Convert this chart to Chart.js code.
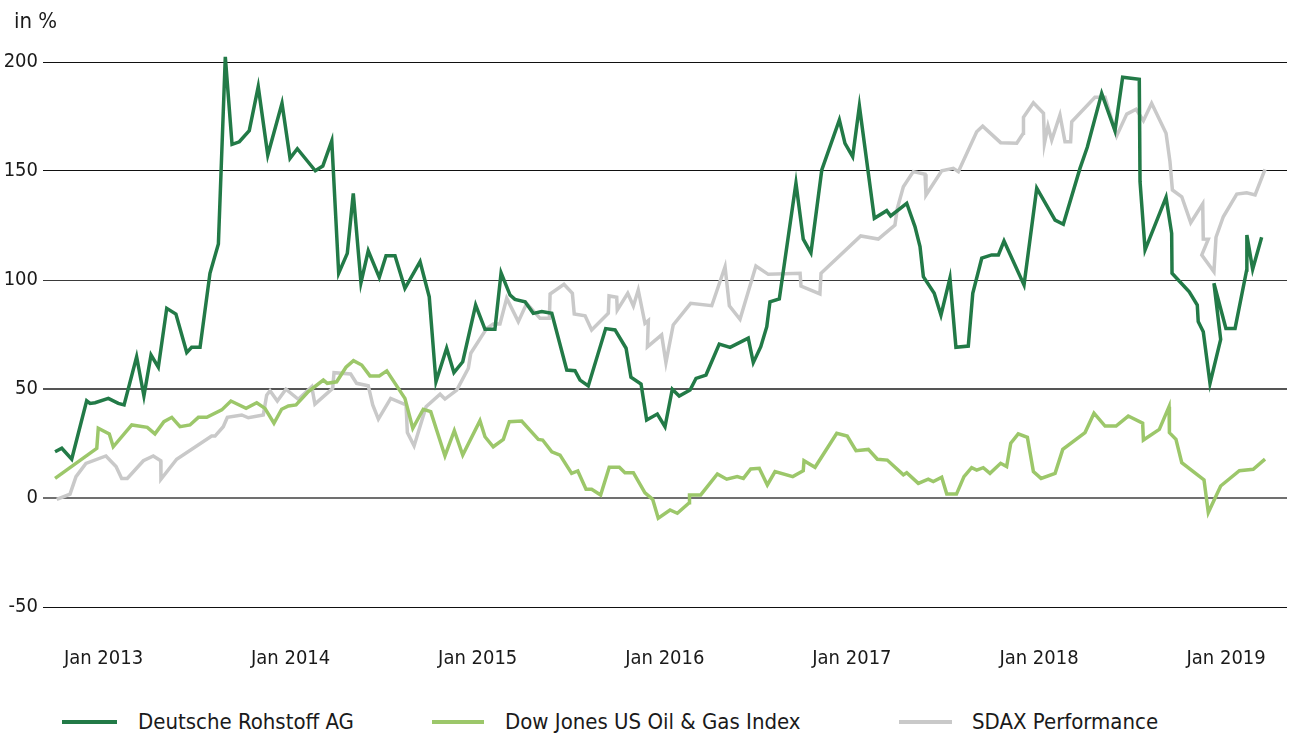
<!DOCTYPE html>
<html>
<head>
<meta charset="utf-8">
<script src="https://cdn.jsdelivr.net/npm/chart.js@4.4.1/dist/chart.umd.min.js"></script>
<style>
  html, body { margin: 0; padding: 0; background: #fff; }
  #wrap { position: relative; width: 1290px; height: 738px; overflow: hidden;
          font-family: 'Liberation Sans Narrow', 'DejaVu Sans Condensed', 'Roboto', sans-serif; color: #1a1a1a; }
  #c { position: absolute; left: 0; top: 0; }
  .unit { position: absolute; left: 14px; top: 7px; font-size: 22px; line-height: 28px; }
  .lg-line { position: absolute; height: 4px; }
  .lg-text { position: absolute; font-size: 22px; line-height: 28px; white-space: nowrap; }
</style>
</head>
<body>
<div id="wrap">
  <canvas id="c" width="1290" height="690"></canvas>
  <div class="unit" id="unit"></div>
  <div id="legend"></div>
</div>
<script>
// ---- labels ----
const unitLabel = 'in %';
const seriesNames = ['Deutsche Rohstoff AG', 'Dow Jones US Oil & Gas Index', 'SDAX Performance'];
const seriesColors = ['#227a47', '#9cc76a', '#c9c9c9'];
const tickYears = [2013, 2014, 2015, 2016, 2017, 2018, 2019];
const tickLabels = ['Jan 2013', 'Jan 2014', 'Jan 2015', 'Jan 2016', 'Jan 2017', 'Jan 2018', 'Jan 2019'];
const yTicks = [-50, 0, 50, 100, 150, 200];

// ---- Deutsche Rohstoff AG (dates as decimal years, values in %) ----
const dragDates = [
  2012.741,2012.777,2012.830,2012.910,2012.928,2012.955,2013.026,2013.079,2013.110,2013.177,
  2013.216,2013.254,2013.293,2013.338,2013.387,2013.445,2013.471,2013.516,2013.569,2013.614,
  2013.651,2013.687,2013.726,2013.779,2013.827,2013.878,2013.954,2013.997,2014.036,2014.132,
  2014.172,2014.220,2014.257,2014.303,2014.335,2014.376,2014.415,2014.474,2014.510,2014.558,
  2014.611,2014.692,2014.741,2014.777,2014.834,2014.873,2014.920,2014.989,2015.039,2015.092,
  2015.125,2015.173,2015.199,2015.253,2015.297,2015.342,2015.396,2015.476,2015.520,2015.547,
  2015.591,2015.684,2015.734,2015.793,2015.819,2015.873,2015.903,2015.960,2016.001,2016.040,
  2016.077,2016.135,2016.167,2016.220,2016.291,2016.349,2016.446,2016.473,2016.513,2016.545,
  2016.562,2016.612,2016.701,2016.740,2016.781,2016.839,2016.933,2016.963,2017.004,2017.040,
  2017.120,2017.186,2017.207,2017.293,2017.337,2017.364,2017.382,2017.440,2017.476,2017.524,
  2017.556,2017.622,2017.646,2017.694,2017.747,2017.783,2017.813,2017.920,2017.988,2018.086,
  2018.130,2018.219,2018.258,2018.335,2018.406,2018.447,2018.536,2018.540,2018.567,2018.679,
  2018.709,2018.711,2018.803,2018.846,2018.851,2018.878,2018.914,2018.971,2018.935,2018.999,
  2019.048,2019.110,2019.111,2019.142,2019.190
];
const dragValues = [
  21.2,22.8,17.8,44.6,43.4,43.7,45.7,43.4,42.7,64.8,
  46.8,65.6,60.0,87.0,84.4,66.7,69.1,69.1,103.1,116.5,
  202.4,162.2,163.4,168.5,188.7,157.3,181.1,155.8,160.2,150.1,
  152.3,163.8,103.1,112.2,139.7,98.8,113.4,101.2,111.1,111.1,
  96.2,108.4,92.3,53.3,68.7,57.5,62.5,88.5,77.4,77.4,
  103.3,93.1,91.1,90.0,84.7,85.5,84.7,58.7,58.4,54.1,
  51.4,77.7,77.1,68.7,55.4,52.3,35.8,38.5,32.7,49.9,
  46.8,49.5,54.9,56.4,70.6,69.1,73.3,62.1,69.4,78.6,
  90.0,91.3,144.4,118.7,112.5,150.5,173.4,162.7,156.6,179.8,
  128.3,131.8,129.4,135.2,124.5,115.3,101.5,93.9,83.9,100.9,
  69.1,69.7,93.9,110.0,111.5,111.5,117.9,97.7,142.1,127.5,
  125.6,151.2,160.9,185.6,168.5,193.0,192.1,145.1,113.8,137.9,
  121.4,103.1,94.6,88.5,80.9,76.3,52.6,72.8,98.5,77.8,
  77.8,104.6,120.6,104.9,119.6
];

// ---- Dow Jones US Oil & Gas Index ----
const dowDates = [
  2012.741,2012.964,2012.972,2013.031,2013.052,2013.151,2013.234,2013.275,2013.323,2013.365,
  2013.409,2013.462,2013.507,2013.552,2013.632,2013.681,2013.762,2013.819,2013.863,2013.911,
  2013.952,2013.988,2014.029,2014.095,2014.175,2014.196,2014.246,2014.296,2014.336,2014.380,
  2014.424,2014.474,2014.514,2014.611,2014.653,2014.709,2014.749,2014.825,2014.875,2014.920,
  2015.012,2015.039,2015.083,2015.137,2015.169,2015.235,2015.324,2015.347,2015.396,2015.440,
  2015.502,2015.535,2015.579,2015.609,2015.657,2015.703,2015.757,2015.787,2015.832,2015.894,
  2015.935,2015.965,2016.028,2016.067,2016.131,2016.132,2016.192,2016.281,2016.331,2016.387,
  2016.420,2016.459,2016.505,2016.548,2016.589,2016.684,2016.740,2016.744,2016.803,2016.919,
  2016.975,2017.022,2017.088,2017.136,2017.189,2017.275,2017.293,2017.355,2017.408,2017.435,
  2017.480,2017.507,2017.559,2017.599,2017.640,2017.667,2017.702,2017.738,2017.795,2017.827,
  2017.849,2017.889,2017.938,2017.970,2018.011,2018.086,2018.127,2018.246,2018.294,2018.353,
  2018.412,2018.477,2018.554,2018.558,2018.643,2018.695,2018.697,2018.732,2018.763,2018.882,
  2018.905,2018.971,2019.071,2019.145,2019.208
];
const dowValues = [
  9.0,22.8,32.0,29.4,23.5,33.5,32.4,29.4,35.0,37.0,
  32.7,33.5,37.0,37.0,40.4,44.5,41.1,43.7,41.1,34.3,
  40.7,42.2,42.7,48.8,54.1,52.6,53.3,60.0,63.0,61.0,
  56.0,56.0,58.3,45.7,32.0,40.7,39.6,19.3,30.9,19.7,
  35.5,28.1,23.5,26.9,35.0,35.3,26.9,26.6,21.2,19.7,
  11.3,12.4,4.0,4.0,1.4,14.1,14.1,11.6,11.6,2.4,
  -0.6,-9.3,-5.5,-7.0,-2.2,1.4,1.4,11.0,8.6,9.8,
  9.0,13.3,13.6,6.0,12.1,9.8,12.5,17.1,14.1,29.7,
  28.4,21.7,22.3,17.8,17.4,10.6,11.6,6.7,8.6,7.5,
  9.5,1.8,1.8,9.8,13.9,12.8,13.9,11.3,15.9,14.4,
  25.1,29.4,27.8,12.1,9.0,11.3,22.3,30.0,38.9,33.0,
  33.0,37.6,34.3,26.6,31.5,41.9,30.0,26.9,16.2,8.3,
  -6.7,5.5,12.5,13.2,17.8
];

// ---- SDAX Performance ----
const sdaxDates = [
  2012.750,2012.821,2012.853,2012.906,2013.013,2013.067,2013.097,2013.127,2013.213,2013.266,
  2013.306,2013.307,2013.391,2013.578,2013.596,2013.640,2013.662,2013.739,2013.774,2013.854,
  2013.872,2013.890,2013.929,2013.975,2014.041,2014.113,2014.130,2014.225,2014.232,2014.321,
  2014.353,2014.415,2014.439,2014.469,2014.535,2014.617,2014.624,2014.660,2014.724,2014.799,
  2014.825,2014.888,2014.950,2014.963,2015.048,2015.083,2015.119,2015.155,2015.217,2015.262,
  2015.333,2015.383,2015.387,2015.461,2015.506,2015.516,2015.574,2015.609,2015.698,2015.702,
  2015.743,2015.746,2015.802,2015.832,2015.858,2015.894,2015.912,2015.907,2015.983,2016.006,
  2016.045,2016.138,2016.251,2016.322,2016.345,2016.402,2016.487,2016.553,2016.723,2016.728,
  2016.829,2016.835,2017.047,2017.141,2017.230,2017.243,2017.275,2017.328,2017.391,2017.396,
  2017.480,2017.542,2017.569,2017.667,2017.699,2017.795,2017.881,2017.916,2017.917,2017.970,
  2018.024,2018.029,2018.048,2018.068,2018.112,2018.139,2018.169,2018.175,2018.299,2018.353,
  2018.415,2018.469,2018.519,2018.558,2018.602,2018.679,2018.700,2018.713,2018.763,2018.811,
  2018.875,2018.878,2018.905,2018.870,2018.935,2018.946,2018.985,2019.057,2019.110,2019.155,
  2019.208
];
const sdaxValues = [
  -0.6,1.8,9.8,15.9,19.3,14.4,9.0,9.0,17.1,19.3,
  17.1,8.6,17.8,28.4,28.4,32.7,37.0,38.1,36.8,38.1,
  47.2,49.2,44.5,49.9,45.3,51.1,43.1,50.3,57.5,56.9,
  52.6,51.5,42.7,36.2,45.7,42.7,30.0,23.9,41.9,47.6,
  45.4,49.5,59.5,66.4,77.8,79.8,79.8,91.6,80.9,89.3,
  82.4,82.4,93.6,98.0,93.9,84.4,83.6,77.1,84.7,92.7,
  92.1,86.2,93.9,88.1,95.4,80.1,81.4,69.3,74.8,62.1,
  79.4,89.3,88.2,106.1,88.2,82.0,106.4,102.6,103.1,97.2,
  93.6,103.1,120.2,118.8,125.2,132.9,142.8,149.7,148.5,139.0,
  150.1,151.2,149.7,168.0,170.6,163.0,162.7,167.3,174.6,181.3,
  176.5,162.7,170.6,164.2,175.7,163.4,163.4,172.6,183.8,183.8,
  166.1,176.1,178.3,173.1,181.1,167.3,154.3,141.3,138.2,126.3,
  134.9,118.8,118.7,111.5,103.8,119.6,129.0,139.4,140.0,139.0,
  150.8
];

const FONT = "'Liberation Sans Narrow', 'DejaVu Sans Condensed', 'Roboto', sans-serif";
const toPoints = (xs, ys) => xs.map((x, i) => ({ x: x, y: ys[i] }));

function lineDataset(i, xs, ys) {
  return {
    label: seriesNames[i],
    data: toPoints(xs, ys),
    borderColor: seriesColors[i],
    backgroundColor: seriesColors[i],
    borderWidth: 3.5,
    pointRadius: 0,
    tension: 0,
    fill: false,
    clip: false
  };
}

function gridColor(ctx) {
  const v = ctx.tick && ctx.tick.value;
  if (v === 0) return '#707070';
  if (v === 50) return '#555555';
  if (v === 100) return '#3a3a3a';
  return '#111111';
}
function gridWidth(ctx) {
  const v = ctx.tick && ctx.tick.value;
  if (v === 0 || v === 50) return 2;
  return 1;
}

new Chart(document.getElementById('c'), {
  type: 'line',
  data: {
    datasets: [
      lineDataset(0, dragDates, dragValues),
      lineDataset(1, dowDates, dowValues),
      lineDataset(2, sdaxDates, sdaxValues)
    ]
  },
  options: {
    responsive: false,
    animation: false,
    layout: { padding: { top: 62, right: 3, left: 0, bottom: 0 } },
    plugins: { legend: { display: false }, tooltip: { enabled: false } },
    scales: {
      x: {
        type: 'linear',
        min: 2012.6766,
        max: 2019.3255,
        afterFit: (s) => { s.height = 83; s.paddingLeft = 0; s.paddingRight = 0; },
        afterBuildTicks: (s) => { s.ticks = tickYears.map(v => ({ value: v })); },
        grid: { display: false, drawTicks: false },
        border: { display: false },
        ticks: {
          autoSkip: false,
          maxRotation: 0,
          padding: 40,
          color: '#1a1a1a',
          font: { family: FONT, size: 20 },
          callback: (v) => { const i = tickYears.indexOf(v); return i >= 0 ? tickLabels[i] : ''; }
        }
      },
      y: {
        type: 'linear',
        min: -50,
        max: 200,
        afterFit: (s) => { s.width = 43; },
        afterBuildTicks: (s) => { s.ticks = yTicks.map(v => ({ value: v })); },
        grid: { drawTicks: false, color: gridColor, lineWidth: gridWidth },
        border: { display: false },
        ticks: {
          padding: 5,
          color: '#1a1a1a',
          font: { family: FONT, size: 20 },
          callback: (v) => String(v)
        }
      }
    }
  }
});

// unit label + legend (HTML text)
document.getElementById('unit').textContent = unitLabel;
const legendPos = [
  { line: 62, w: 55, text: 138 },
  { line: 432, w: 52, text: 505 },
  { line: 899, w: 53, text: 972 }
];
const lg = document.getElementById('legend');
seriesNames.forEach((name, i) => {
  const l = document.createElement('div');
  l.className = 'lg-line';
  l.style.left = legendPos[i].line + 'px';
  l.style.width = legendPos[i].w + 'px';
  l.style.top = '720px';
  l.style.background = seriesColors[i];
  lg.appendChild(l);
  const t = document.createElement('div');
  t.className = 'lg-text';
  t.style.left = legendPos[i].text + 'px';
  t.style.top = '708px';
  t.textContent = name;
  lg.appendChild(t);
});
</script>
</body>
</html>
